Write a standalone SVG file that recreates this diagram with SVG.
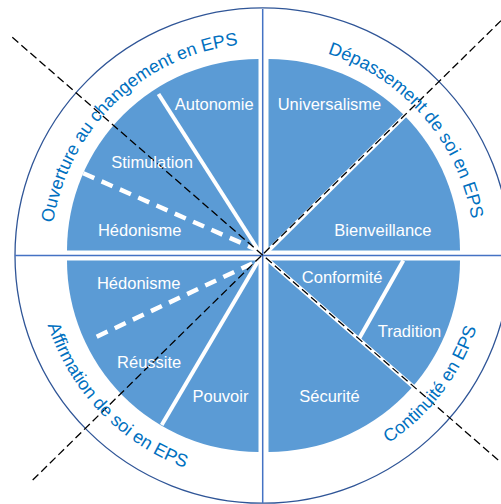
<svg xmlns="http://www.w3.org/2000/svg" width="501" height="504" viewBox="0 0 501 504">
<style>
.sector{fill:#5B9BD5;stroke:none}
.axis{stroke:#4472C4;stroke-width:1.5;fill:none}
.ring{stroke:#2F5597;stroke-width:1.3;fill:none}
.wsolid{stroke:#FFFFFF;stroke-width:4;fill:none}
.wdash{stroke:#FFFFFF;stroke-width:4.5;stroke-dasharray:12 8;fill:none}
.bdash{stroke:#000000;stroke-width:1.3;stroke-dasharray:8 4;fill:none}
.lbl{font-family:"Liberation Sans",Arial,sans-serif;font-size:16.5px;fill:#FFFFFF;text-anchor:middle}
.arc{font-family:"Liberation Sans",Arial,sans-serif;font-size:18px;fill:#0070C0;text-anchor:middle}
</style>
<defs>
<path id="topArc" d="M 50.7 255.5 A 212 212 0 0 1 474.7 255.5"/>
<path id="botArc" d="M 36.7 255.5 A 226 226 0 0 0 488.7 255.5"/>
</defs>
<rect width="501" height="504" fill="#FFFFFF"/>
<g id="ring"><circle class="ring" cx="262.7" cy="255.5" r="247.7"/></g>
<g id="quadrant-ouverture"><path class="sector" d="M 258.5 250.5 L 67 250.5 A 191.5 191.5 0 0 1 258.5 59 Z"/></g>
<g id="quadrant-depassement"><path class="sector" d="M 268.5 250.5 L 268.5 59 A 191.5 191.5 0 0 1 460 250.5 Z"/></g>
<g id="quadrant-affirmation"><path class="sector" d="M 258.5 260.5 L 258.5 452 A 191.5 191.5 0 0 1 67 260.5 Z"/></g>
<g id="quadrant-continuite"><path class="sector" d="M 268.5 260.5 L 460 260.5 A 191.5 191.5 0 0 1 268.5 452 Z"/></g>
<g id="dividers">
<line class="wsolid" x1="158.5" y1="94" x2="258.5" y2="250.5"/>
<line class="wdash" x1="83.3" y1="173.3" x2="258.5" y2="250.5"/>
<line class="wdash" x1="96.7" y1="336.7" x2="258.5" y2="260.5"/>
<line class="wsolid" x1="161.7" y1="425" x2="258.5" y2="260.5"/>
<line class="wsolid" x1="403.3" y1="260.5" x2="359.3" y2="338.3"/>
<line class="wsolid" x1="268.5" y1="250.5" x2="406" y2="114.5"/>
<line class="wsolid" x1="268.5" y1="260.5" x2="416" y2="389"/>
</g>
<g id="axes">
<line class="axis" x1="262.7" y1="9" x2="262.7" y2="503"/>
<line class="axis" x1="15" y1="255.6" x2="501" y2="255.6"/>
</g>
<g id="connectors">
<line class="bdash" x1="12.3" y1="37.3" x2="501" y2="462.5"/>
<line class="bdash" x1="501" y1="20.7" x2="30" y2="482.7"/>
</g>
<g id="labels">
<text class="lbl" x="214.2" y="110">Autonomie</text>
<text class="lbl" x="329.5" y="110">Universalisme</text>
<text class="lbl" x="152" y="168.3">Stimulation</text>
<text class="lbl" x="139.7" y="236">Hédonisme</text>
<text class="lbl" x="382.9" y="236">Bienveillance</text>
<text class="lbl" x="138.7" y="289.3">Hédonisme</text>
<text class="lbl" x="342.2" y="283.3">Conformité</text>
<text class="lbl" x="409.5" y="336.7">Tradition</text>
<text class="lbl" x="149.2" y="368.3">Réussite</text>
<text class="lbl" x="220.5" y="402.3">Pouvoir</text>
<text class="lbl" x="329.5" y="402.3">Sécurité</text>
</g>
<g id="ring-labels">
<text class="arc"><textPath href="#topArc" startOffset="25.6%">Ouverture au changement en EPS</textPath></text>
<text class="arc"><textPath href="#topArc" startOffset="77.2%">Dépassement de soi en EPS</textPath></text>
<text class="arc"><textPath href="#botArc" startOffset="24.4%">Affirmation de soi en EPS</textPath></text>
<text class="arc"><textPath href="#botArc" startOffset="79.2%">Continuité en EPS</textPath></text>
</g>
</svg>
